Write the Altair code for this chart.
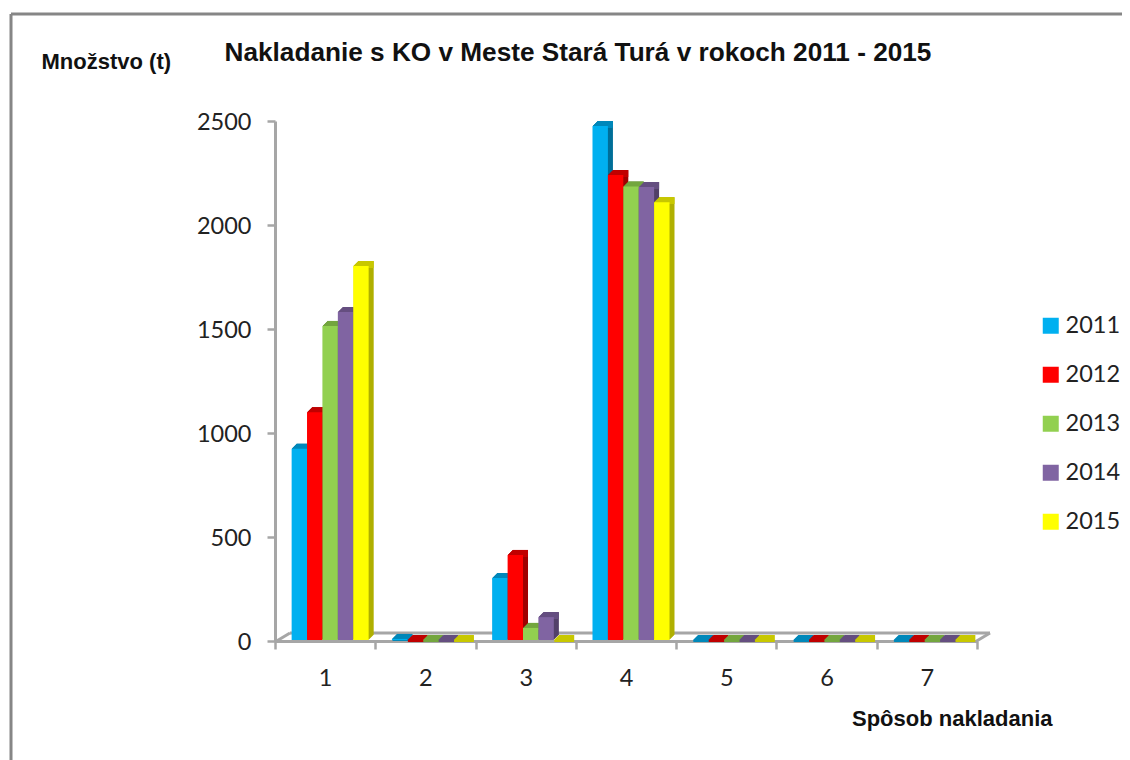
import altair as alt
import pandas as pd

groups = [1, 2, 3, 4, 5, 6, 7]
years = ["2011", "2012", "2013", "2014", "2015"]
v2011 = [920, 5, 298, 2471, 0, 0, 0]
v2012 = [1095, 0, 409, 2235, 0, 0, 0]
v2013 = [1510, 0, 58, 2180, 0, 0, 0]
v2014 = [1577, 0, 110, 2178, 0, 0, 0]
v2015 = [1798, 0, 0, 2105, 0, 0, 0]
front = ["#00B0F0", "#FF0000", "#92D050", "#8064A2", "#FFFF00"]
top = ["#0088BA", "#C00000", "#74A63F", "#654F80", "#C8C800"]
side = ["#006F98", "#A00000", "#5F8834", "#534169", "#B0B000"]
GRAY = "#A6A6A6"
LAB = "Lato"
BOLD = "Liberation Sans"

rows = []
for i, (y, vals) in enumerate(zip(years, [v2011, v2012, v2013, v2014, v2015])):
    for g, v in zip(groups, vals):
        rows.append({"g": g, "year": y, "v": v, "low": v - 4, "top": top[i], "side": side[i]})
df = pd.DataFrame(rows)

W, H = 702, 520
STEP = W / 7
X = alt.X("g:O", title="Spôsob nakladania", scale=alt.Scale(paddingInner=0, paddingOuter=0),
          axis=alt.Axis(labelAngle=0, tickBand="extent", labelFont=LAB, labelFontSize=23.5, labelColor="#222222",
                        labelPadding=17, tickSize=8, tickWidth=2.5, tickColor=GRAY, domainColor=GRAY, domainWidth=3,
                        grid=False, titleFont=BOLD, titleFontSize=22, titleFontWeight="bold", titleColor="#111111",
                        titleX=777, titleY=84, titleAlign="right", titleBaseline="alphabetic"))
Y = alt.Y("v:Q", title="Množstvo (t)", scale=alt.Scale(domain=[0, 2500], nice=False),
          axis=alt.Axis(values=[0, 500, 1000, 1500, 2000, 2500], format="d", labelFont=LAB, labelFontSize=23.5,
                        labelColor="#222222", labelPadding=16, labelOffset=1, tickSize=8, tickWidth=2.5,
                        tickColor=GRAY, domainColor=GRAY, domainWidth=3, grid=False, titleFont=BOLD,
                        titleFontSize=22, titleFontWeight="bold", titleColor="#111111", titleAngle=0,
                        titleX=-234, titleY=-53, titleAlign="left", titleBaseline="alphabetic"))


def XO(shift):
    return alt.XOffset("year:O", scale=alt.Scale(domain=years, range=[shift, STEP + shift],
                                                 paddingInner=0, paddingOuter=0.756))


BX, BY = 5, -1
steps = [i / 2 for i in range(10, 0, -1)]


def deco(x, x2, y, y2, color=GRAY, w=3):
    return alt.Chart(df.head(1)).mark_rule(color=color, strokeWidth=w).encode(
        x=alt.value(x), x2=alt.value(x2), y=alt.value(y), y2=alt.value(y2))


layers = [
    deco(-264, 847, -107, -107, "#868686", 3),
    deco(-264, -264, -107, 640, "#868686", 3),
    deco(15, 715, 512, 512),
    deco(0, 15, 521, 512),
    deco(700, 715, 521, 512),
]
for k in steps:
    layers.append(alt.Chart(df).mark_bar(yOffset=BY - k).encode(
        x=X, xOffset=XO(BX + k), y=Y, fill=alt.Fill("side:N", scale=None, legend=None)))
for k in steps:
    layers.append(alt.Chart(df).mark_bar(yOffset=BY - k).encode(
        x=X, xOffset=XO(BX + k), y=Y, y2="low:Q", fill=alt.Fill("top:N", scale=None, legend=None)))
layers.append(alt.Chart(df).mark_bar(yOffset=BY).encode(
    x=X, xOffset=XO(BX), y=Y,
    color=alt.Color("year:N", scale=alt.Scale(domain=years, range=front),
                    legend=alt.Legend(title=None, orient="none", legendX=764, legendY=193, symbolType="square",
                                      symbolSize=256, symbolStrokeWidth=0, labelFont=LAB, labelFontSize=23.5,
                                      labelColor="#222222", rowPadding=24, labelOffset=3))))

chart = alt.layer(*layers).resolve_scale(xOffset="independent").properties(
    width=W, height=H,
    title=alt.TitleParams("Nakladanie s KO v Meste Stará Turá v rokoch 2011 - 2015", font=BOLD, fontSize=26.2,
                          fontWeight="bold", color="#111111", anchor="start", dx=215, dy=54, offset=0),
    padding={"left": 267, "top": 113, "right": 145, "bottom": 119},
    autosize=alt.AutoSizeParams(type="none"),
    background="white",
).configure_view(stroke=None)
chart.save("out.html", embed_options={"renderer": "svg", "actions": False})
